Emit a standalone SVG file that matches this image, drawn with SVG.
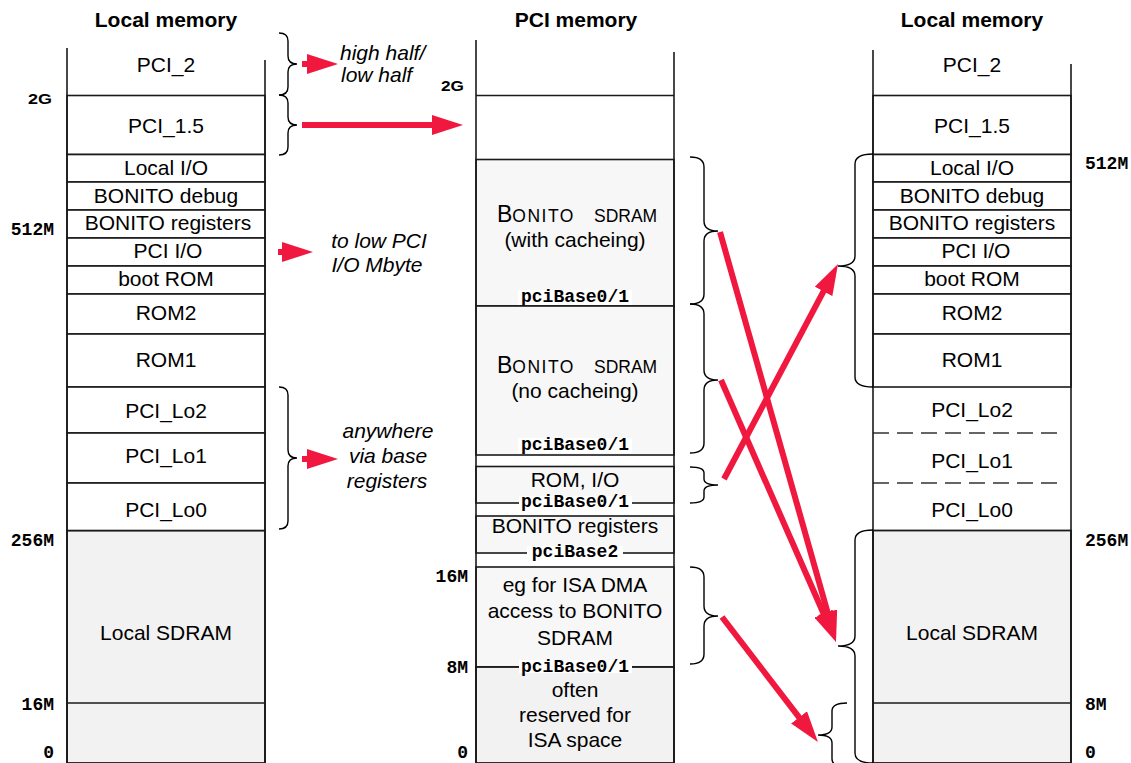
<svg xmlns="http://www.w3.org/2000/svg" width="1131" height="763" viewBox="0 0 1131 763">
<style>
.t{font-family:"Liberation Sans",Arial,Helvetica,sans-serif;font-size:21px;fill:#000;text-anchor:middle}
.hd{font-weight:bold}
.it{font-style:italic}
.ls{text-anchor:start}
.m{font-family:"Liberation Mono","Courier New",monospace;font-weight:bold;font-size:18px;fill:#000}
.me{text-anchor:end}
.mc{text-anchor:middle}
.g{font-family:"Liberation Sans",Arial,Helvetica,sans-serif;font-weight:bold;font-size:14.5px;fill:#000}
.ln{stroke:#1a1a1a;stroke-width:1.6;fill:none}
.row{stroke:#1a1a1a;stroke-width:1.6;fill:#fff}
.sd{stroke:#1a1a1a;stroke-width:1.8;fill:#f2f2f2}
.bx{stroke:#1a1a1a;stroke-width:1.6;fill:#f7f7f7}
.dash{stroke:#333;stroke-width:1.3;stroke-dasharray:16 8;fill:none}
.br{stroke:#000;stroke-width:1.4;fill:none}
.ar{stroke:#f0183f;stroke-width:6;fill:none;marker-end:url(#ah)}
.wb{fill:#fff}
.sc{font-size:17.5px}
</style>
<defs>
<marker id="ah" markerUnits="userSpaceOnUse" markerWidth="32" markerHeight="20" viewBox="0 0 32 20" refX="13" refY="10" orient="auto">
<path d="M0,0 L31,10 L0,20 Z" fill="#f0183f"/>
</marker>
</defs>
<rect width="1131" height="763" fill="#fff"/>

<!-- Titles -->
<text class="t hd" x="166" y="27">Local memory</text>
<text class="t hd" x="576" y="27">PCI memory</text>
<text class="t hd" x="972" y="27">Local memory</text>

<!-- Left column -->
<g id="left-column">
<g id="L-sdram"><rect class="sd" x="67" y="530.5" width="198" height="232.5"/><line class="ln" x1="67" y1="703" x2="265" y2="703"/><text class="t" x="166" y="640">Local SDRAM</text></g>
<g id="L-pci2"><text class="t" x="166" y="72">PCI_2</text></g>
<g id="L-pci15"><rect class="row" x="67" y="95.5" width="198" height="59"/><text class="t" x="166" y="133">PCI_1.5</text></g>
<g id="L-localio"><rect class="row" x="67" y="154.5" width="198" height="27.5"/><text class="t" x="166" y="175">Local I/O</text></g>
<g id="L-bdebug"><rect class="row" x="67" y="182" width="198" height="28"/><text class="t" x="166" y="203">BONITO debug</text></g>
<g id="L-bregs"><rect class="row" x="67" y="210" width="198" height="28"/><text class="t" x="168" y="230">BONITO registers</text></g>
<g id="L-pciio"><rect class="row" x="67" y="238" width="198" height="28"/><text class="t" x="168" y="258">PCI I/O</text></g>
<g id="L-bootrom"><rect class="row" x="67" y="266" width="198" height="28"/><text class="t" x="166" y="286">boot ROM</text></g>
<g id="L-rom2"><rect class="row" x="67" y="294" width="198" height="40"/><text class="t" x="166" y="320">ROM2</text></g>
<g id="L-rom1"><rect class="row" x="67" y="334" width="198" height="53"/><text class="t" x="166" y="367">ROM1</text></g>
<g id="L-lo2"><rect class="row" x="67" y="387" width="198" height="46"/><text class="t" x="166" y="418">PCI_Lo2</text></g>
<g id="L-lo1"><rect class="row" x="67" y="433" width="198" height="50"/><text class="t" x="166" y="463">PCI_Lo1</text></g>
<g id="L-lo0"><rect class="row" x="67" y="483" width="198" height="47.5"/><text class="t" x="166" y="517">PCI_Lo0</text></g>
<line class="ln" x1="67" y1="48" x2="67" y2="763"/>
<line class="ln" x1="265" y1="60" x2="265" y2="763"/>
</g>
<g id="left-labels">
<text class="g" x="28" y="103.5" textLength="24" lengthAdjust="spacingAndGlyphs">2G</text>
<text class="m me" x="54" y="235">512M</text>
<text class="m me" x="54" y="546">256M</text>
<text class="m me" x="54" y="710">16M</text>
<text class="m me" x="54" y="758">0</text>
</g>

<!-- Middle column -->
<g id="middle-column">
<g id="P-top"><line class="ln" x1="476" y1="95.5" x2="674" y2="95.5"/></g>
<g id="P-sdram-cache"><rect class="bx" x="476" y="159.5" width="198" height="146.5"/>
<text class="t ls" x="497" y="222"><tspan font-size="23">B</tspan><tspan class="sc" letter-spacing="1.5">ONITO</tspan><tspan class="sc" x="594">SDRAM</tspan></text>
<text class="t" x="575" y="247">(with cacheing)</text>
<rect class="wb" x="518" y="290" width="114" height="15"/>
<text class="m mc" x="575" y="302">pciBase0/1</text></g>
<g id="P-sdram-nocache"><rect class="bx" x="476" y="306" width="198" height="149"/>
<text class="t ls" x="497" y="373"><tspan font-size="23">B</tspan><tspan class="sc" letter-spacing="1.5">ONITO</tspan><tspan class="sc" x="594">SDRAM</tspan></text>
<text class="t" x="575" y="398">(no cacheing)</text>
<rect class="wb" x="518" y="438" width="114" height="15"/>
<text class="m mc" x="575" y="450">pciBase0/1</text></g>
<g id="P-romio"><rect class="bx" x="476" y="466.5" width="198" height="36.5"/>
<text class="t" x="575" y="487">ROM, I/O</text>
<rect class="wb" x="519" y="496" width="113" height="13"/>
<text class="m mc" x="575" y="507">pciBase0/1</text></g>
<g id="P-bregs"><rect class="bx" x="476" y="516" width="198" height="37"/>
<text class="t" x="575" y="533">BONITO registers</text>
<rect class="wb" x="527" y="546" width="96" height="13"/>
<text class="m mc" x="575" y="557">pciBase2</text></g>
<g id="P-isadma"><rect class="bx" x="476" y="567" width="198" height="100"/>
<text class="t" x="575" y="592">eg for ISA DMA</text>
<text class="t" x="575" y="618">access to BONITO</text>
<text class="t" x="575" y="645">SDRAM</text></g>
<g id="P-isaspace"><rect class="sd" x="476" y="667" width="198" height="96"/>
<rect class="wb" x="519" y="660" width="113" height="13"/>
<text class="m mc" x="575" y="672">pciBase0/1</text>
<text class="t" x="575" y="697">often</text>
<text class="t" x="575" y="722">reserved for</text>
<text class="t" x="575" y="747">ISA space</text></g>
<line class="ln" x1="476" y1="40" x2="476" y2="763"/>
<line class="ln" x1="674" y1="52" x2="674" y2="763"/>
</g>
<g id="middle-labels">
<text class="g" x="441" y="91" textLength="23" lengthAdjust="spacingAndGlyphs">2G</text>
<text class="m me" x="468" y="582">16M</text>
<text class="m me" x="468" y="673">8M</text>
<text class="m me" x="468" y="758">0</text>
</g>

<!-- Right column -->
<g id="right-column">
<g id="R-sdram"><rect class="sd" x="873" y="530.5" width="198" height="232.5"/><line class="ln" x1="873" y1="703" x2="1071" y2="703"/><text class="t" x="972" y="640">Local SDRAM</text></g>
<g id="R-pci2"><text class="t" x="972" y="72">PCI_2</text></g>
<g id="R-pci15"><rect class="row" x="873" y="95.5" width="198" height="59"/><text class="t" x="972" y="133">PCI_1.5</text></g>
<g id="R-localio"><rect class="row" x="873" y="154.5" width="198" height="27.5"/><text class="t" x="972" y="175">Local I/O</text></g>
<g id="R-bdebug"><rect class="row" x="873" y="182" width="198" height="28"/><text class="t" x="972" y="203">BONITO debug</text></g>
<g id="R-bregs"><rect class="row" x="873" y="210" width="198" height="28"/><text class="t" x="972" y="230">BONITO registers</text></g>
<g id="R-pciio"><rect class="row" x="873" y="238" width="198" height="28"/><text class="t" x="976" y="258">PCI I/O</text></g>
<g id="R-bootrom"><rect class="row" x="873" y="266" width="198" height="28"/><text class="t" x="972" y="286">boot ROM</text></g>
<g id="R-rom2"><rect class="row" x="873" y="294" width="198" height="40"/><text class="t" x="972" y="320">ROM2</text></g>
<g id="R-rom1"><rect class="row" x="873" y="334" width="198" height="53"/><text class="t" x="972" y="367">ROM1</text></g>
<g id="R-lo2"><text class="t" x="972" y="417">PCI_Lo2</text><line class="dash" x1="873" y1="433" x2="1065" y2="433"/></g>
<g id="R-lo1"><text class="t" x="972" y="468">PCI_Lo1</text><line class="dash" x1="873" y1="483" x2="1065" y2="483"/></g>
<g id="R-lo0"><text class="t" x="972" y="517">PCI_Lo0</text></g>
<line class="ln" x1="873" y1="50" x2="873" y2="763"/>
<line class="ln" x1="1071" y1="64" x2="1071" y2="763"/>
</g>
<g id="right-labels">
<text class="m ls" x="1085" y="169">512M</text>
<text class="m ls" x="1085" y="546">256M</text>
<text class="m ls" x="1085" y="710">8M</text>
<text class="m ls" x="1085" y="758">0</text>
</g>

<!-- Annotations -->
<g id="notes">
<text class="t it ls" x="340" y="60">high half/</text>
<text class="t it ls" x="341" y="82">low half</text>
<text class="t it" x="379" y="248">to low PCI</text>
<text class="t it" x="377" y="272">I/O Mbyte</text>
<text class="t it" x="388" y="438">anywhere</text>
<text class="t it" x="388" y="463">via base</text>
<text class="t it" x="387" y="488">registers</text>
</g>

<!-- Braces -->
<g id="braces">
<path class="br" d="M279,33 Q288,33 288,41 L288,56 Q288,64 297,64 Q288,64 288,72 L288,87 Q288,95 279,95"/>
<path class="br" d="M279,95 Q288,95 288,103 L288,117 Q288,125 297,125 Q288,125 288,133 L288,147 Q288,155 279,155"/>
<path class="br" d="M279,387 Q288,387 288,395 L288,450 Q288,458 297,458 Q288,458 288,466 L288,521 Q288,529 279,529"/>
<path class="br" d="M690,157 Q704,157 704,167 L704,221 Q704,231 718,231 Q704,231 704,241 L704,294 Q704,304 690,304"/>
<path class="br" d="M690,304 Q704,304 704,314 L704,370 Q704,380 718,380 Q704,380 704,390 L704,443 Q704,453 690,453"/>
<path class="br" d="M690,467 Q704,467 704,473 L704,479 Q704,485 718,485 Q704,485 704,491 L704,497 Q704,503 690,503"/>
<path class="br" d="M690,567 Q704,567 704,577 L704,606 Q704,616 718,616 Q704,616 704,626 L704,654 Q704,664 690,664"/>
<path class="br" d="M873,154 Q855,154 855,164 L855,256 Q855,266 838,266 Q855,266 855,276 L855,377 Q855,387 873,387"/>
<path class="br" d="M873,530 Q855,530 855,540 L855,636 Q855,646 838,646 Q855,646 855,656 L855,753 Q855,763 873,763"/>
<path class="br" d="M847,703 Q832,703 832,711 L832,727 Q832,735 818,735 Q832,735 832,743 L832,759 Q832,767 847,767"/>
</g>

<!-- Connectors -->
<g id="connectors">
<line class="ar" x1="302" y1="64" x2="320" y2="64"/>
<line class="ar" x1="302" y1="125" x2="445" y2="125"/>
<line class="ar" x1="278" y1="252" x2="295" y2="252"/>
<line class="ar" x1="302" y1="459" x2="320" y2="459"/>
<line class="ar" x1="720" y1="232" x2="831.1" y2="624.7"/>
<line class="ar" x1="721" y1="380" x2="828.8" y2="625.5"/>
<line class="ar" x1="724" y1="479" x2="829.6" y2="279.9"/>
<line class="ar" x1="722" y1="617" x2="807" y2="727.7"/>
</g>
</svg>
